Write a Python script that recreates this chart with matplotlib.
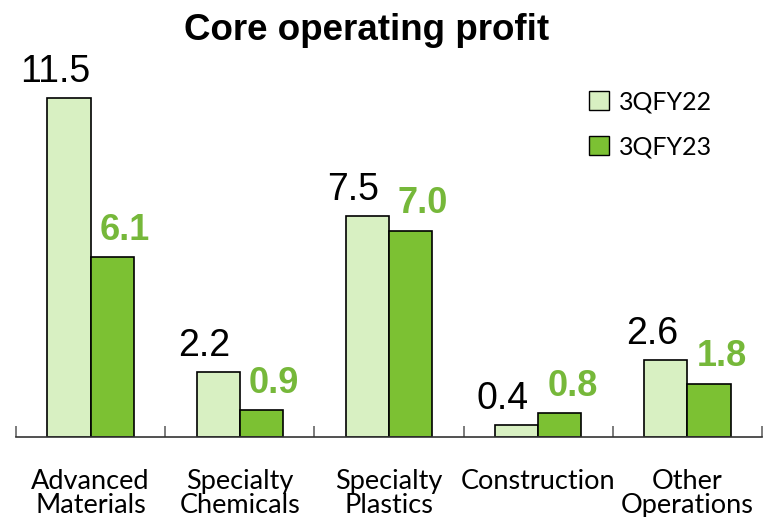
import matplotlib.pyplot as plt
import numpy as np
from matplotlib.patches import Patch

categories = ["Advanced\nMaterials", "Specialty\nChemicals", "Specialty\nPlastics",
              "Construction", "Other\nOperations"]
fy22 = [11.5, 2.2, 7.5, 0.4, 2.6]
fy23 = [6.1, 0.9, 7.0, 0.8, 1.8]
series_names = ["3QFY22", "3QFY23"]

light = "#D8F0C2"
dark = "#7CC133"
green_text = "#76B83A"

fig = plt.figure(figsize=(7.63, 5.17), dpi=100)
ax = fig.add_axes([16 / 763, 1 - 437 / 517, 746 / 763, 377 / 517])

x = np.arange(len(categories))
w = 0.29
ax.bar(x - w / 2, fy22, w, color=light, edgecolor="black", linewidth=1.2)
ax.bar(x + w / 2, fy23, w, color=dark, edgecolor="black", linewidth=1.2)

for xi, v in zip(x, fy22):
    ax.annotate(f"{v:.1f}", (xi - w / 2, v), xytext=(-10, 6), textcoords="offset points",
                ha="center", va="bottom", fontsize=27, family="Liberation Sans", color="black")
for xi, v in zip(x, fy23):
    ax.annotate(f"{v:.1f}", (xi + w / 2, v), xytext=(9, 7), textcoords="offset points",
                ha="center", va="bottom", fontsize=26, family="Liberation Sans",
                fontweight="bold", color=green_text)

ax.set_xlim(-0.5, len(categories) - 0.5)
ax.set_ylim(0, 12.8)
for s in ["top", "right", "left"]:
    ax.spines[s].set_visible(False)
ax.spines["bottom"].set_color("#333333")
ax.spines["bottom"].set_linewidth(1.2)
ax.set_yticks([])
ax.set_xticks(np.arange(-0.5, len(categories)))
ax.set_xticklabels([])
ax.tick_params(axis="x", direction="in", length=8, width=1.2, color="#666666")
for xi, c in zip(x, categories):
    ax.text(xi, -1.1, c, ha="center", va="top", fontsize=19.5, family="Lato",
            linespacing=0.95)

fig.text(367 / 763, 1 - 30 / 517, "Core operating profit", ha="center", va="center",
         fontsize=26.5, fontweight="bold", family="Liberation Sans")

handles = [Patch(facecolor=light, edgecolor="black"), Patch(facecolor=dark, edgecolor="black")]
ax.legend(handles, series_names, loc="upper left", bbox_to_anchor=(0.738, 0.98),
          frameon=False, prop={"family": "Lato", "size": 18},
          handlelength=0.8, handleheight=0.8, handletextpad=0.4, labelspacing=0.9)

fig.savefig("out.png", dpi=100)
